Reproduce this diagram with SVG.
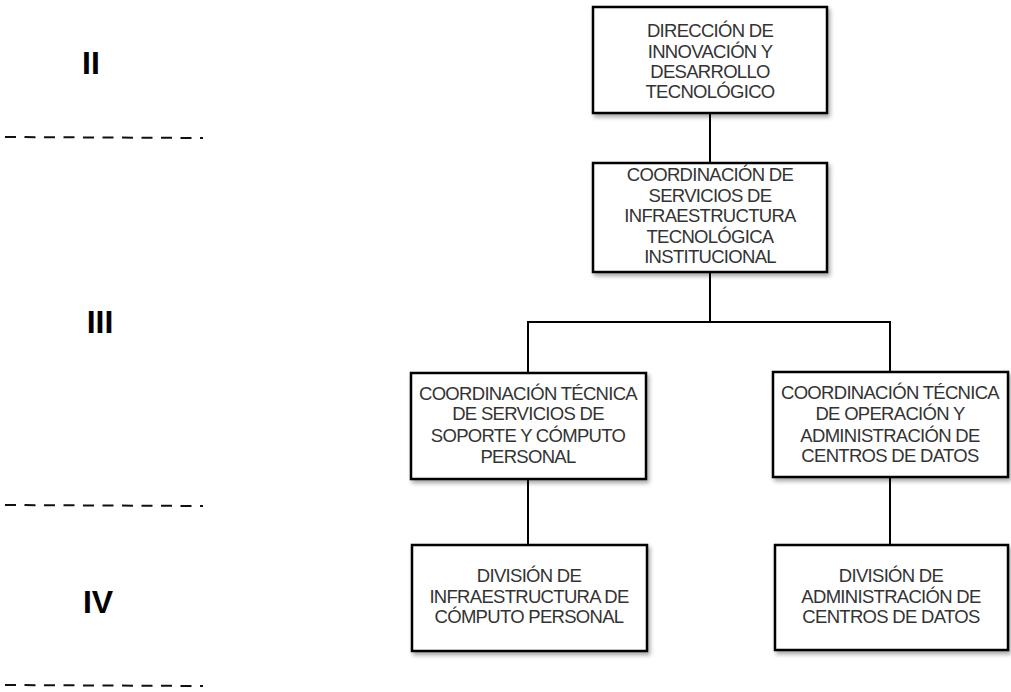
<svg xmlns="http://www.w3.org/2000/svg" width="1011" height="692" viewBox="0 0 1011 692">
<style>
.box{fill:#fff;stroke:#000;stroke-width:2.5;filter:url(#sh)}
.t{font-family:"Liberation Sans",Arial,sans-serif;font-size:18.5px;letter-spacing:-0.7px;fill:#333;text-anchor:middle}
.lv{font-family:"Liberation Sans",Arial,sans-serif;font-size:32px;font-weight:bold;fill:#000;text-anchor:middle}
.c{stroke:#000;stroke-width:2;fill:none}
.d{stroke:#111;stroke-width:2;stroke-dasharray:11 8.5;fill:none}
</style>
<defs>
<filter id="sh" x="-10%" y="-10%" width="125%" height="130%">
<feDropShadow dx="2" dy="3" stdDeviation="2" flood-color="#000" flood-opacity="0.35"/>
</filter>
</defs>
<rect width="1011" height="692" fill="#fff"/>
<g id="levels">
<text class="lv" x="91" y="74">II</text>
<text class="lv" x="100" y="333">III</text>
<text class="lv" x="98" y="613">IV</text>
<line class="d" x1="5" y1="137" x2="203" y2="138"/>
<line class="d" x1="5" y1="505" x2="203" y2="506"/>
<line class="d" x1="5" y1="685" x2="203" y2="686"/>
</g>
<g id="connectors">
<line class="c" x1="710" y1="113" x2="710" y2="163"/>
<polyline class="c" points="528,373 528,322 890,322 890,372"/>
<line class="c" x1="710" y1="272" x2="710" y2="322"/>
<line class="c" x1="528" y1="479" x2="528" y2="545"/>
<line class="c" x1="890" y1="477" x2="890" y2="545"/>
</g>
<g id="n1">
<rect class="box" x="593" y="7" width="234" height="106"/>
<text class="t" x="710" y="37">DIRECCIÓN DE</text>
<text class="t" x="710" y="58">INNOVACIÓN Y</text>
<text class="t" x="710" y="78">DESARROLLO</text>
<text class="t" x="710" y="98">TECNOLÓGICO</text>
</g>
<g id="n2">
<rect class="box" x="593" y="163" width="234" height="109"/>
<text class="t" x="710" y="181">COORDINACIÓN DE</text>
<text class="t" x="710" y="202">SERVICIOS DE</text>
<text class="t" x="710" y="222">INFRAESTRUCTURA</text>
<text class="t" x="710" y="243">TECNOLÓGICA</text>
<text class="t" x="710" y="263">INSTITUCIONAL</text>
</g>
<g id="n3">
<rect class="box" x="411" y="373" width="235" height="106"/>
<text class="t" x="528" y="400">COORDINACIÓN TÉCNICA</text>
<text class="t" x="528" y="420">DE SERVICIOS DE</text>
<text class="t" x="528" y="442">SOPORTE Y CÓMPUTO</text>
<text class="t" x="528" y="463">PERSONAL</text>
</g>
<g id="n4">
<rect class="box" x="773" y="372" width="235" height="105"/>
<text class="t" x="890" y="399">COORDINACIÓN TÉCNICA</text>
<text class="t" x="890" y="420">DE OPERACIÓN Y</text>
<text class="t" x="890" y="442">ADMINISTRACIÓN DE</text>
<text class="t" x="890" y="462">CENTROS DE DATOS</text>
</g>
<g id="n5">
<rect class="box" x="412" y="545" width="235" height="106"/>
<text class="t" x="529" y="582">DIVISIÓN DE</text>
<text class="t" x="529" y="603">INFRAESTRUCTURA DE</text>
<text class="t" x="529" y="623">CÓMPUTO PERSONAL</text>
</g>
<g id="n6">
<rect class="box" x="775" y="545" width="233" height="105"/>
<text class="t" x="891" y="582">DIVISIÓN DE</text>
<text class="t" x="891" y="603">ADMINISTRACIÓN DE</text>
<text class="t" x="891" y="623">CENTROS DE DATOS</text>
</g>
</svg>
